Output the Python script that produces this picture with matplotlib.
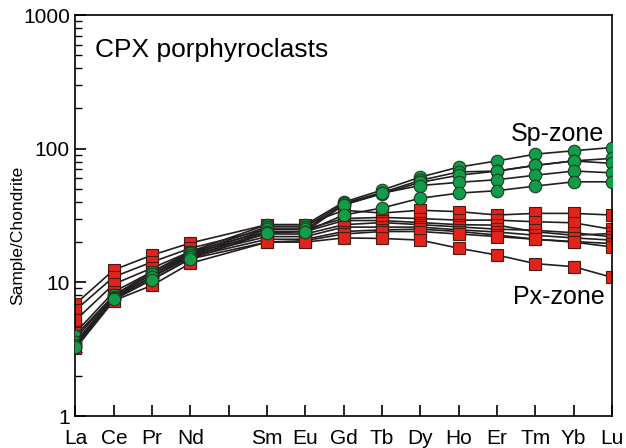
import numpy as np
import matplotlib.pyplot as plt
from matplotlib.ticker import LogLocator, NullFormatter, FixedLocator

plt.rcParams['font.family'] = ['Liberation Sans', 'DejaVu Sans']

# Chondrite-normalised REE, Pm slot left empty
ree = ['La', 'Ce', 'Pr', 'Nd', '', 'Sm', 'Eu', 'Gd', 'Tb', 'Dy', 'Ho', 'Er', 'Tm', 'Yb', 'Lu']
pos = [0, 1, 2, 3, 5, 6, 7, 8, 9, 10, 11, 12, 13, 14]

# Px-zone clinopyroxene
px_zone = [
    [6.9, 12.4, 16.0, 19.7, 27.0, 27.0, 34.6, 33.0, 34.6, 33.8, 31.9, 32.8, 32.8, 31.9],
    [6.2, 11.0, 14.2, 18.0, 25.0, 25.0, 30.0, 30.6, 30.0, 29.2, 29.2, 28.4, 27.9, 24.9],
    [5.2, 9.7, 12.8, 17.0, 24.0, 24.0, 29.0, 29.0, 28.0, 27.0, 26.8, 23.9, 22.5, 23.2],
    [4.2, 8.5, 12.0, 16.5, 23.0, 23.0, 27.0, 28.0, 27.0, 26.0, 25.0, 24.5, 23.5, 21.9],
    [3.8, 8.0, 11.5, 16.0, 22.0, 22.0, 25.9, 25.9, 25.9, 24.7, 23.8, 22.5, 21.5, 20.7],
    [3.5, 7.6, 11.0, 15.5, 21.0, 21.0, 24.0, 24.7, 25.0, 24.0, 22.6, 21.0, 20.2, 19.5],
    [3.3, 7.4, 10.5, 15.0, 20.0, 20.5, 23.0, 24.0, 24.0, 23.0, 22.0, 21.0, 20.0, 18.4],
    [3.2, 7.3, 9.5, 13.9, 20.0, 20.0, 21.5, 21.3, 20.7, 18.0, 16.0, 13.8, 13.1, 10.9],
]

# Sp-zone clinopyroxene
sp_zone = [
    [4.0, 8.0, 12.0, 17.0, 27.0, 27.0, 39.8, 49.0, 61.3, 72.8, 81.0, 91.0, 96.5, 102.0],
    [3.6, 7.8, 11.5, 16.5, 26.0, 26.0, 39.0, 47.0, 58.0, 67.0, 68.0, 75.0, 81.0, 84.6],
    [3.4, 7.7, 11.0, 16.0, 25.0, 25.0, 38.0, 46.0, 56.0, 63.3, 68.0, 75.0, 81.0, 77.6],
    [3.3, 7.6, 11.0, 15.5, 24.0, 24.0, 38.0, 46.5, 53.0, 56.0, 58.6, 63.3, 68.0, 66.0],
    [3.3, 7.5, 10.5, 15.0, 23.4, 24.0, 31.9, 36.0, 42.6, 46.5, 48.5, 52.5, 56.5, 56.5],
]

fig = plt.figure(figsize=(6.26, 4.48), dpi=100)
ax = fig.add_axes([0.1206, 0.0714, 0.8570, 0.8951])

line_col = '#231f20'
for s in px_zone:
    ax.plot(pos, s, '-', color=line_col, lw=1.2, marker='s', ms=8.5,
            mfc='#e2231a', mec='#4a1a12', mew=0.8, zorder=2)
for s in sp_zone:
    ax.plot(pos, s, '-', color=line_col, lw=1.2, marker='o', ms=9,
            mfc='#109c48', mec='#1f3a22', mew=0.8, zorder=3)

ax.set_yscale('log')
ax.set_ylim(1, 1000)
ax.set_xlim(0, 14)

ax.xaxis.set_major_locator(FixedLocator(range(15)))
ax.set_xticklabels(ree, fontsize=15)
ax.yaxis.set_major_locator(LogLocator(base=10))
ax.yaxis.set_minor_locator(LogLocator(base=10, subs=np.arange(2, 10)))
ax.yaxis.set_minor_formatter(NullFormatter())
ax.set_yticks([1, 10, 100, 1000])
ax.set_yticklabels(['1', '10', '100', '1000'], fontsize=15)

ax.tick_params(axis='both', which='major', direction='in', length=8, width=1.2,
               top=False, right=False)
ax.tick_params(axis='y', which='minor', direction='in', length=5, width=1.0, right=False)
ax.tick_params(axis='x', pad=9)
ax.tick_params(axis='y', pad=4)
for sp in ax.spines.values():
    sp.set_linewidth(1.2)

ax.set_ylabel('Sample/Chondrite', fontsize=12.5)
ax.yaxis.set_label_coords(-0.094, 0.45)

ax.text(0.5, 550, 'CPX porphyroclasts', fontsize=19, va='center', ha='left')
ax.text(13.8, 128, 'Sp-zone', fontsize=18, va='center', ha='right')
ax.text(13.8, 7.8, 'Px-zone', fontsize=18, va='center', ha='right')

fig.savefig('out.png', dpi=100)
